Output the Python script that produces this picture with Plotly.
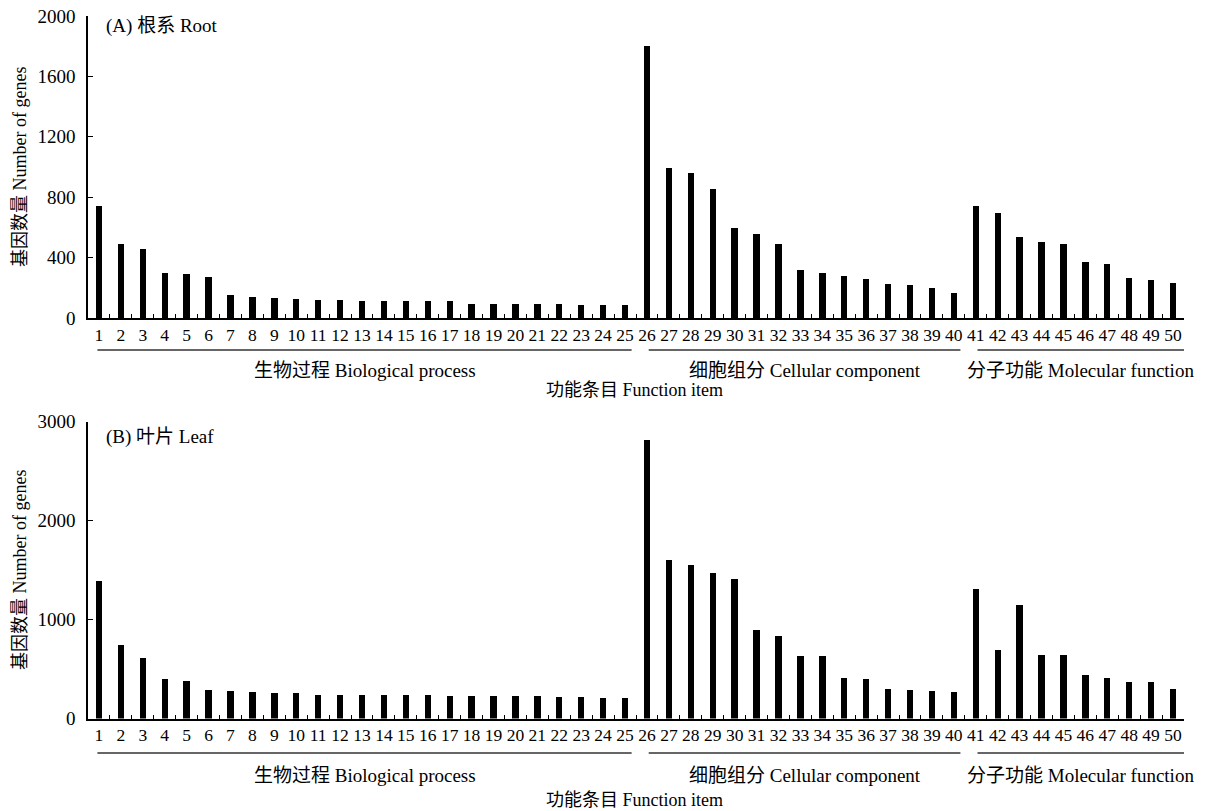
import plotly.graph_objects as go

items = [str(i) for i in range(1, 51)]

root_counts = [745, 490, 458, 300, 291, 269, 152, 137, 135, 128,
               119, 119, 110, 110, 110, 110, 110, 95, 95, 95,
               95, 95, 86, 86, 86,
               1800, 992, 960, 853, 597, 555, 489, 315, 300, 276,
               258, 225, 216, 200, 167,
               742, 696, 537, 504, 489, 372, 357, 266, 249, 233]

leaf_counts = [1395, 745, 612, 400, 385, 293, 282, 268, 258, 258,
               245, 245, 245, 245, 245, 245, 232, 232, 232, 232,
               232, 222, 222, 212, 212,
               2815, 1605, 1558, 1472, 1410, 900, 842, 640, 640, 412,
               400, 306, 293, 280, 268,
               1318, 695, 1150, 650, 650, 448, 410, 375, 375, 305]

groups = [("生物过程 Biological process", 1, 25),
          ("细胞组分 Cellular component", 26, 40),
          ("分子功能 Molecular function", 41, 50)]

panel_titles = ["(A) 根系 Root", "(B) 叶片 Leaf"]
y_title = "基因数量 Number of genes"
x_title = "功能条目 Function item"
y_ticks_root = [0, 400, 800, 1200, 1600, 2000]
y_ticks_leaf = [0, 1000, 2000, 3000]

W, H = 1216, 811
FONT = "Liberation Serif, 'Noto Sans CJK SC', serif"

def px(v):
    return v / W

def py(v):
    return 1 - v / H

fig = go.Figure()
fig.add_trace(go.Bar(x=items, y=root_counts, xaxis="x", yaxis="y",
                     marker=dict(color="black", line=dict(width=0)), width=0.29))
fig.add_trace(go.Bar(x=items, y=leaf_counts, xaxis="x2", yaxis="y2",
                     marker=dict(color="black", line=dict(width=0)), width=0.29))

xdom = [px(88), px(1184)]
top_dom = [py(318), py(16)]
bot_dom = [py(718.5), py(421.5)]

xcommon = dict(type="category", domain=xdom, range=[-0.5, 49.5],
               tickmode="array", tickvals=items, ticktext=items,
               showline=True, linecolor="black", linewidth=1.5,
               ticks="inside", tickson="boundaries", ticklen=4, tickcolor="black",
               tickwidth=1.2, showgrid=False, zeroline=False,
               tickfont=dict(family=FONT, size=17.5, color="black"),
               tickangle=0, fixedrange=True, automargin=False)

ycommon = dict(showline=True, linecolor="black", linewidth=1.5,
               ticks="inside", ticklen=5, tickcolor="black", tickwidth=1.2,
               showgrid=False, zeroline=False,
               tickfont=dict(family=FONT, size=19, color="black"),
               ticklabelstandoff=7, automargin=False)

fig.update_layout(
    width=W, height=H,
    margin=dict(l=0, r=0, t=0, b=0, pad=0, autoexpand=False),
    paper_bgcolor="white", plot_bgcolor="white",
    showlegend=False,
    bargap=0,
    xaxis=dict(anchor="y", **xcommon),
    xaxis2=dict(anchor="y2", **xcommon),
    yaxis=dict(domain=top_dom, anchor="x", range=[0, 2000],
               tickvals=y_ticks_root, **ycommon),
    yaxis2=dict(domain=bot_dom, anchor="x2", range=[0, 3000],
                tickvals=y_ticks_leaf, **ycommon),
)

annotations = []
shapes = []
panels = [
    dict(xref="x", title=panel_titles[0], dom=top_dom, title_y=26,
         line_y=350, label_y=370, xt_y=390),
    dict(xref="x2", title=panel_titles[1], dom=bot_dom, title_y=437,
         line_y=753, label_y=775, xt_y=800),
]
for p in panels:
    annotations.append(dict(text=p["title"], xref="paper", yref="paper",
                            x=px(104), y=py(p["title_y"]), xanchor="left",
                            yanchor="middle", showarrow=False,
                            font=dict(family=FONT, size=19, color="black")))
    annotations.append(dict(text=y_title, xref="paper", yref="paper",
                            x=px(20), y=(p["dom"][0] + p["dom"][1]) / 2,
                            textangle=-90, xanchor="center", yanchor="middle",
                            showarrow=False,
                            font=dict(family=FONT, size=18, color="black")))
    annotations.append(dict(text=x_title, xref="paper", yref="paper",
                            x=px(634), y=py(p["xt_y"]), xanchor="center",
                            yanchor="middle", showarrow=False,
                            font=dict(family=FONT, size=18, color="black")))
    for gi, (name, a, b) in enumerate(groups):
        x0 = a - 1 - (0.07 if gi == 0 else -0.08)
        x1 = b - 1 + (0.5 if gi == 2 else 0.3)
        shapes.append(dict(type="line", xref=p["xref"], yref="paper",
                           x0=x0, x1=x1, y0=py(p["line_y"]), y1=py(p["line_y"]),
                           line=dict(color="#333333", width=1.5)))
        xc = (x0 + x1) / 2
        annotations.append(dict(text=name, xref=p["xref"], yref="paper",
                                x=xc, y=py(p["label_y"]), xanchor="center",
                                yanchor="middle", showarrow=False,
                                font=dict(family=FONT, size=19, color="black")))

fig.update_layout(annotations=annotations, shapes=shapes)
fig.write_html("out.html",
               config={"displayModeBar": False},
               post_script="document.body.style.margin='0';"
                           "document.body.style.overflow='hidden';")
